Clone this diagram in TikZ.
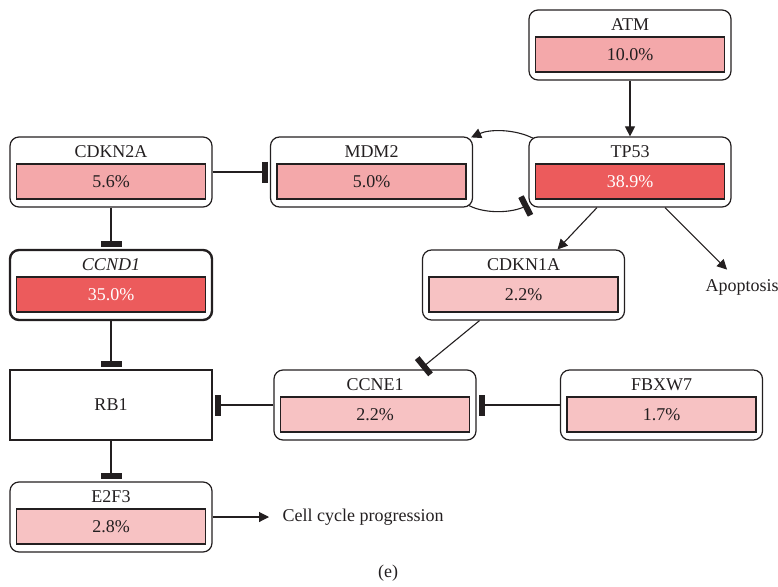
\documentclass[tikz,border=0pt]{standalone}
\usepackage{fontspec}
\setmainfont{Liberation Serif}
\usetikzlibrary{arrows.meta,positioning}
\definecolor{altmid}{HTML}{F4A8AA}
\definecolor{althigh}{HTML}{EC5B5C}
\definecolor{altlow}{HTML}{F7C2C3}
\definecolor{inkgray}{HTML}{231F20}
\tikzset{
	every node/.append style={font=\fontsize{18}{21}\selectfont, text=inkgray},
	genebox/.style = {
			draw            = inkgray,
			rounded corners = 9pt,
			line width      = 1.2pt,
			minimum width   = 202pt,
			minimum height  = 70pt,
			inner sep       = 0pt,
		},
	freqbar/.style = {
			draw           = inkgray,
			line width     = 1.1pt,
			minimum width  = 189pt,
			minimum height = 35pt,
			inner sep      = 0pt,
		},
	gname/.style = {inner sep=0pt},
	act/.style = {-{Triangle[length=10pt,width=10pt]}, line width=1.1pt, draw=inkgray},
	inh/.style = {-{Bar[width=21pt,line width=6pt]}, line width=1.1pt, draw=inkgray, shorten >=2pt},
}

\begin{document}
\begin{tikzpicture}[x=1pt,y=-1pt]
	\useasboundingbox (0,0) rectangle (778,586);

	% Gene boxes with alteration frequencies
	% ATM
	\node[genebox] (atm) at (630,45) {};
	\node[freqbar, fill=altmid] (atmbar) at (630,54.5) {10.0\%};
	\node[gname] (atmname) at (630,25) {ATM};

	% TP53
	\node[genebox] (tp53) at (630,172) {};
	\node[freqbar, fill=althigh, text=white] (tp53bar) at (630,181.5) {38.9\%};
	\node[gname] (tp53name) at (630,152) {TP53};

	% MDM2
	\node[genebox] (mdm2) at (371.5,172) {};
	\node[freqbar, fill=altmid] (mdm2bar) at (371.5,181.5) {5.0\%};
	\node[gname] (mdm2name) at (371.5,152) {MDM2};

	% CDKN2A
	\node[genebox] (cdkn2a) at (111,172) {};
	\node[freqbar, fill=altmid] (cdkn2abar) at (111,181.5) {5.6\%};
	\node[gname] (cdkn2aname) at (111,152) {CDKN2A};

	% CCND1
	\node[genebox, line width=2.4pt] (ccnd1) at (111,285) {};
	\node[freqbar, fill=althigh, text=white] (ccnd1bar) at (111,294.5) {35.0\%};
	\node[gname] (ccnd1name) at (111,265) {\itshape CCND1};

	% CDKN1A
	\node[genebox] (cdkn1a) at (523.5,285) {};
	\node[freqbar, fill=altlow] (cdkn1abar) at (523.5,294.5) {2.2\%};
	\node[gname] (cdkn1aname) at (523.5,265) {CDKN1A};

	% RB1 (no frequency)
	\node[genebox, rounded corners=0pt] (rb1) at (111,405) {RB1};

	% CCNE1
	\node[genebox] (ccne1) at (375,405) {};
	\node[freqbar, fill=altlow] (ccne1bar) at (375,414.5) {2.2\%};
	\node[gname] (ccne1name) at (375,385) {CCNE1};

	% FBXW7
	\node[genebox] (fbxw7) at (661.5,405) {};
	\node[freqbar, fill=altlow] (fbxw7bar) at (661.5,414.5) {1.7\%};
	\node[gname] (fbxw7name) at (661.5,385) {FBXW7};

	% E2F3
	\node[genebox] (e2f3) at (111,517) {};
	\node[freqbar, fill=altlow] (e2f3bar) at (111,526.5) {2.8\%};
	\node[gname] (e2f3name) at (111,497) {E2F3};

	% Outcomes
	\node[anchor=west] (apop) at (702,287) {Apoptosis};
	\node[anchor=west] (cellcycle) at (279,517) {Cell cycle progression};
	\node (caption) at (388,573) {(e)};

	% Activations
	\draw[act] (atm) -- (tp53);
	\draw[act] ([shift={(5,2)}]tp53.north west) .. controls (515,129) and (490,129) .. ([shift={(-2,1)}]mdm2.north east);
	\draw[act] ([xshift=-33pt]tp53.south) -- ([xshift=34pt]cdkn1a.north);
	\draw[act] ([xshift=35pt]tp53.south) -- ([shift={(-15,-6)}]apop.north);
	\draw[act] (e2f3.east |- cellcycle.west) -- ([xshift=-10pt]cellcycle.west);

	% Inhibitions
	\draw[inh] (cdkn2a.east) -- (mdm2.west);
	\draw[inh] (cdkn2a) -- (ccnd1);
	\draw[inh] (ccnd1) -- (rb1);
	\draw[inh] (rb1) -- (e2f3);
	\draw[inh] (ccne1.west) -- (rb1.east);
	\draw[inh] (fbxw7.west) -- (ccne1.west -| ccne1.east);
	\draw[inh] ([xshift=-44pt]cdkn1a.south) -- ([xshift=45pt]ccne1.north);
	\draw[inh, shorten >=0pt] ([shift={(-4,-2)}]mdm2.south east) .. controls (485,214) and (512,213) .. ([shift={(0,-3)}]tp53.south west);
\end{tikzpicture}
\end{document}
